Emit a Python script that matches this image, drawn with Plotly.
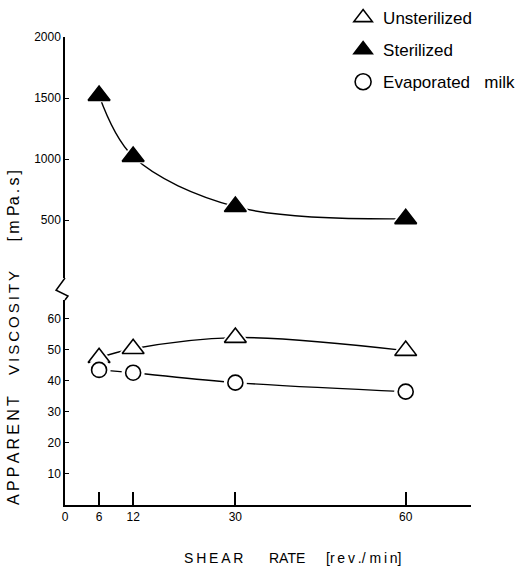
import plotly.graph_objects as go

shear_rate = [6, 12, 30, 60]
sterilized = [1520, 1020, 610, 510]
unsterilized = [47.4, 50.3, 53.9, 49.7]
evaporated = [43.5, 42.6, 39.4, 36.5]

x_ticks = [0, 6, 12, 30, 60]
upper_ticks = [500, 1000, 1500, 2000]
lower_ticks = [10, 20, 30, 40, 50, 60]

FONT = "Liberation Sans"
TS = "\u2009"
NB = "\u00a0"

def spaced(s):
    return TS.join(list(s))

fig = go.Figure()

def add_series(y, axis, symbol, filled, size):
    fig.add_trace(go.Scatter(x=shear_rate, y=y, yaxis=axis, mode="lines",
                             line=dict(color="black", width=1.4, shape="spline", smoothing=1.0),
                             showlegend=False, hoverinfo="skip"))
    fig.add_trace(go.Scatter(x=shear_rate, y=y, yaxis=axis, mode="markers",
                             marker=dict(symbol=symbol, size=size + 8, color="white",
                                         line=dict(width=0)),
                             showlegend=False, hoverinfo="skip"))
    fig.add_trace(go.Scatter(x=shear_rate, y=y, yaxis=axis, mode="markers",
                             marker=dict(symbol=symbol, size=size,
                                         color="black" if filled else "white",
                                         line=dict(color="black", width=1.6)),
                             showlegend=False))

add_series(sterilized, "y", "triangle-up", True, 19)
add_series(unsterilized, "y2", "triangle-up", False, 19)
add_series(evaporated, "y2", "circle", False, 15)

# legend-only entries
for name, sym, filled, size in [("Unsterilized", "triangle-up", False, 18),
                                ("Sterilized", "triangle-up", True, 18),
                                ("Evaporated" + NB * 3 + "milk", "circle", False, 16)]:
    fig.add_trace(go.Scatter(x=[None], y=[None], mode="markers", name=name,
                             legendgroup=name,
                             marker=dict(symbol=sym, size=size,
                                         color="black" if filled else "white",
                                         line=dict(color="black", width=1.6))))

axis_common = dict(showgrid=False, zeroline=False, showline=True, linecolor="black",
                   linewidth=1.5, ticks="inside", tickcolor="black",
                   tickfont=dict(family=FONT, size=12, color="black"))

fig.update_layout(
    width=520, height=570,
    margin=dict(l=65, r=49, t=37, b=65, autoexpand=False),
    paper_bgcolor="white", plot_bgcolor="white",
    font=dict(family=FONT, color="black"),
    xaxis=dict(range=[0, 71.5], tickvals=x_ticks, ticktext=[str(v) for v in x_ticks],
               anchor="y2", ticklen=13, tickwidth=1.5, **axis_common),
    yaxis=dict(domain=[0.485, 1], range=[25, 2000], tickvals=upper_ticks,
               ticktext=[str(v) for v in upper_ticks], anchor="x", ticklen=4, tickwidth=1.2,
               **axis_common),
    yaxis2=dict(domain=[0, 0.438], range=[0, 66], tickvals=lower_ticks,
                ticktext=[str(v) for v in lower_ticks], anchor="x", ticklen=4, tickwidth=1.2,
                **axis_common),
    legend=dict(x=0.685, y=1.079, xanchor="left", yanchor="top",
                font=dict(family=FONT, size=17, color="black"),
                tracegroupgap=7, bgcolor="rgba(0,0,0,0)", itemsizing="trace"),
    showlegend=True,
)

# axis break zigzag
fig.add_shape(type="path", xref="paper", yref="paper",
              path="M 0 0.485 L -0.022 0.459 L 0.0074 0.4466 L 0 0.438",
              line=dict(color="black", width=1.5))

# x axis title (three words)
x_title_parts = [(spaced("SHEAR"), 0.366, 14), ("RATE", 0.548, 14),
                 ("[" + spaced("rev.") + "/ " + spaced("min") + "]", 0.736, 14)]
for txt, xp, fs in x_title_parts:
    fig.add_annotation(text=txt, xref="paper", yref="paper", x=xp, y=-0.113,
                       xanchor="center", yanchor="middle",
                       showarrow=False, font=dict(family=FONT, size=fs, color="black"))

# y axis title (three words)
y_title_parts = [(spaced("APPARENT"), 0.1165, 16), (spaced("VISCOSITY"), 0.39, 15),
                 ("[" + TS + "m" + NB + "Pa" + TS + "." + TS + "s" + TS + "]", 0.641, 16)]
for txt, yp, fs in y_title_parts:
    fig.add_annotation(text=txt, xref="paper", yref="paper", x=-0.127, y=yp, textangle=-90,
                       xanchor="center", yanchor="middle",
                       showarrow=False, font=dict(family=FONT, size=fs, color="black"))

fig.write_html("out.html")
